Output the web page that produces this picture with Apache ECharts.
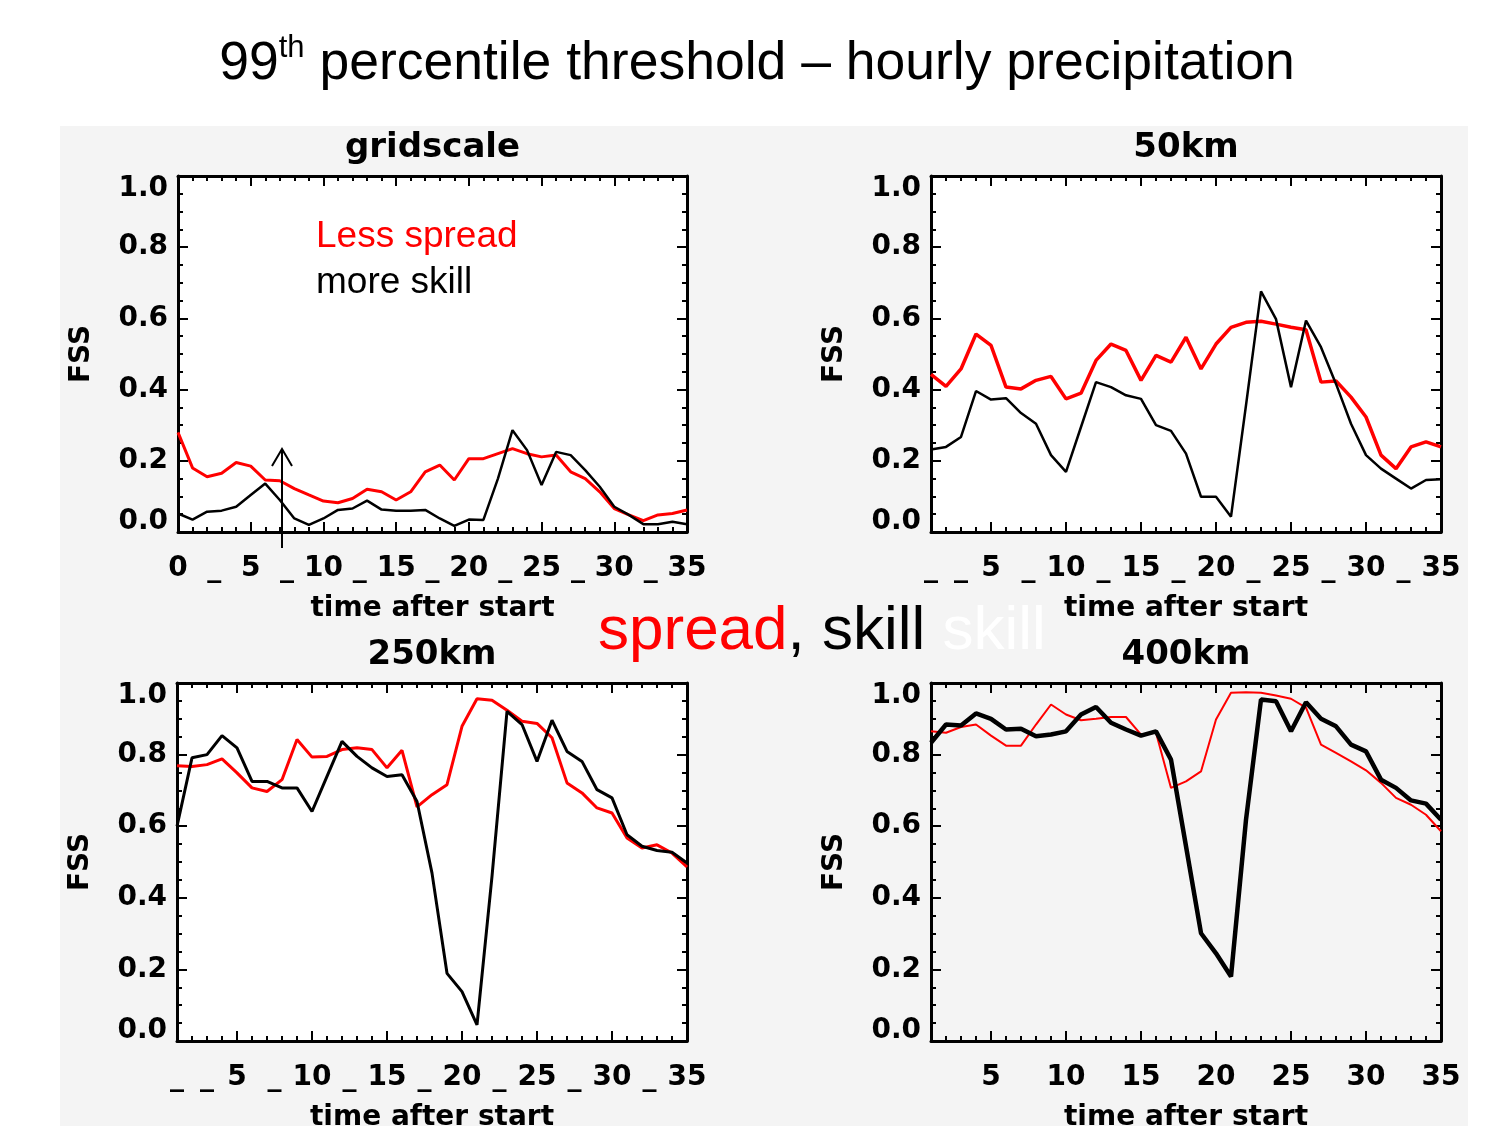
<!DOCTYPE html>
<html>
<head>
<meta charset="utf-8">
<title>99th percentile threshold – hourly precipitation</title>
<script src="https://cdn.jsdelivr.net/npm/echarts@6/dist/echarts.min.js"></script>
<style>
html, body { margin: 0; padding: 0; background: #fff; }
#main { width: 1497px; height: 1126px; }
</style>
</head>
<body>
<div id="main"></div>
<script>
// hours after start
var hoursGridscale = [0,1,2,3,4,5,6,7,8,9,10,11,12,13,14,15,16,17,18,19,20,21,22,23,24,25,26,27,28,29,30,31,32,33,34,35];
var hoursSmoothed = [1,2,3,4,5,6,7,8,9,10,11,12,13,14,15,16,17,18,19,20,21,22,23,24,25,26,27,28,29,30,31,32,33,34,35];

// FSS values, red = spread, black = skill
var gridscaleRed = [0.28,0.18,0.155,0.165,0.195,0.185,0.146,0.144,0.122,0.104,0.087,0.082,0.094,0.12,0.113,0.09,0.113,0.169,0.188,0.146,0.206,0.206,0.22,0.234,0.22,0.211,0.216,0.169,0.15,0.113,0.066,0.048,0.032,0.048,0.052,0.062];
var gridscaleBlack = [0.052,0.035,0.057,0.06,0.071,0.104,0.136,0.09,0.038,0.02,0.038,0.062,0.066,0.088,0.063,0.06,0.06,0.062,0.038,0.017,0.035,0.034,0.15,0.286,0.23,0.132,0.225,0.216,0.174,0.127,0.071,0.048,0.022,0.022,0.029,0.022];
var km50Red = [0.443,0.409,0.458,0.556,0.524,0.407,0.402,0.426,0.437,0.374,0.39,0.482,0.528,0.51,0.426,0.496,0.477,0.547,0.458,0.528,0.575,0.589,0.592,0.584,0.575,0.568,0.421,0.424,0.379,0.323,0.216,0.178,0.239,0.253,0.239];
var km50Black = [0.232,0.239,0.267,0.396,0.372,0.376,0.334,0.304,0.216,0.169,0.295,0.421,0.407,0.384,0.374,0.3,0.284,0.22,0.099,0.099,0.043,0.356,0.676,0.598,0.407,0.594,0.519,0.416,0.304,0.216,0.178,0.15,0.122,0.146,0.148];
var km250Red = [0.769,0.767,0.772,0.788,0.749,0.707,0.697,0.73,0.842,0.793,0.795,0.814,0.819,0.814,0.763,0.812,0.654,0.688,0.716,0.879,0.956,0.952,0.924,0.893,0.887,0.847,0.721,0.693,0.651,0.637,0.567,0.539,0.548,0.525,0.486];
var km250Black = [0.6,0.791,0.8,0.853,0.819,0.725,0.725,0.707,0.707,0.641,0.739,0.837,0.795,0.763,0.739,0.744,0.669,0.469,0.189,0.138,0.045,0.46,0.921,0.884,0.781,0.896,0.809,0.781,0.702,0.679,0.576,0.544,0.532,0.527,0.497];
var km400Red = [0.865,0.861,0.877,0.884,0.853,0.825,0.825,0.884,0.94,0.912,0.896,0.9,0.905,0.905,0.856,0.861,0.707,0.725,0.753,0.898,0.973,0.974,0.973,0.965,0.956,0.931,0.828,0.805,0.781,0.756,0.721,0.679,0.66,0.632,0.586];
var km400Black = [0.833,0.884,0.881,0.915,0.9,0.87,0.872,0.851,0.856,0.865,0.912,0.933,0.889,0.87,0.853,0.865,0.786,0.544,0.301,0.245,0.18,0.618,0.954,0.949,0.865,0.946,0.9,0.879,0.828,0.809,0.73,0.707,0.672,0.663,0.618];

// tick labels
var yTickLabels = [0, 0.2, 0.4, 0.6, 0.8, 1.0];
var xMajorTicks = [5, 10, 15, 20, 25, 30, 35];
var xLabelsGridscale = [0, 2.5, 5, 7.5, 10, 12.5, 15, 17.5, 20, 22.5, 25, 27.5, 30, 32.5, 35];
var xLabelsUnderscored = [1, 3, 5, 7.5, 10, 12.5, 15, 17.5, 20, 22.5, 25, 27.5, 30, 32.5, 35];
var xLabelsPlain = [5, 10, 15, 20, 25, 30, 35];

var idlFont = 'DejaVu Sans';
var pptFont = 'Liberation Sans';

var panels = [
  { title: 'gridscale', left: 178, top: 176, width: 509, height: 356, xMin: 0, hours: hoursGridscale,
    red: gridscaleRed, black: gridscaleBlack, labels: xLabelsGridscale, bg: '#ffffff', redW: 3, blackW: 2.5 },
  { title: '50km', left: 931, top: 176, width: 510, height: 356, xMin: 1, hours: hoursSmoothed,
    red: km50Red, black: km50Black, labels: xLabelsUnderscored, bg: '#ffffff', redW: 3.5, blackW: 2.5 },
  { title: '250km', left: 177, top: 683, width: 510, height: 358, xMin: 1, hours: hoursSmoothed,
    red: km250Red, black: km250Black, labels: xLabelsUnderscored, bg: '#ffffff', redW: 3, blackW: 3 },
  { title: '400km', left: 931, top: 683, width: 510, height: 358, xMin: 1, hours: hoursSmoothed,
    red: km400Red, black: km400Black, labels: xLabelsPlain, bg: '#f4f4f4', redW: 2, blackW: 4.5 }
];

var tickStyle = { color: '#000', width: 2 };
var labelStyle = { color: '#000', fontFamily: idlFont, fontWeight: 'bold', fontSize: 28 };

function pairs(xs, ys) {
  return xs.map(function (x, k) { return [x, ys[k]]; });
}

var grids = [], xAxes = [], yAxes = [], series = [], graphics = [];

// grey slide background
graphics.push({ type: 'rect', z: -10, shape: { x: 60, y: 126, width: 1408, height: 1000 }, style: { fill: '#f4f4f4' } });

panels.forEach(function (p, i) {
  grids.push({ left: p.left, top: p.top, width: p.width, height: p.height, show: true,
    backgroundColor: p.bg, borderWidth: 0, containLabel: false, outerBoundsMode: 'none' });

  var majors = p.xMin === 0 ? [0].concat(xMajorTicks) : xMajorTicks;
  var xBase = xAxes.length, yBase = yAxes.length;
  var xCommon = { gridIndex: i, type: 'value', min: p.xMin, max: 35, splitLine: { show: false } };

  xAxes.push(Object.assign({}, xCommon, {
    position: 'bottom',
    axisLine: { show: true, onZero: false, lineStyle: { color: '#000', width: 3 } },
    axisTick: { show: true, inside: true, length: 10, customValues: majors, lineStyle: tickStyle },
    axisLabel: Object.assign({ customValues: p.labels, margin: 23,
      formatter: function (v) { return v % 5 === 0 ? String(v) : '_'; } }, labelStyle),
    name: 'time after start', nameLocation: 'middle', nameGap: 63,
    nameTextStyle: labelStyle
  }));
  xAxes.push(Object.assign({}, xCommon, {
    position: 'bottom', axisLine: { show: false, onZero: false },
    axisTick: { show: true, inside: true, length: 5, customValues: p.hours, lineStyle: tickStyle },
    axisLabel: { show: false }
  }));
  xAxes.push(Object.assign({}, xCommon, {
    position: 'top',
    axisLine: { show: true, onZero: false, lineStyle: { color: '#000', width: 3 } },
    axisTick: { show: true, inside: true, length: 10, customValues: majors, lineStyle: tickStyle },
    axisLabel: { show: false }
  }));
  xAxes.push(Object.assign({}, xCommon, {
    position: 'top', axisLine: { show: false, onZero: false },
    axisTick: { show: true, inside: true, length: 5, customValues: p.hours, lineStyle: tickStyle },
    axisLabel: { show: false }
  }));

  var yCommon = { gridIndex: i, type: 'value', min: 0, max: 1, interval: 0.2, splitLine: { show: false },
    axisLine: { show: true, onZero: false, lineStyle: { color: '#000', width: 3 } },
    axisTick: { show: true, inside: true, length: 10, lineStyle: tickStyle },
    minorTick: { show: true, splitNumber: 4, length: 5, lineStyle: tickStyle } };

  // IDL nudges the end labels inward
  var yLabelPos = yTickLabels.map(function (v) { return v === 0 ? 0.03 : (v === 1 ? 0.965 : v); });
  yAxes.push(Object.assign({}, yCommon, {
    position: 'left',
    axisLabel: Object.assign({ customValues: yLabelPos, margin: 10,
      formatter: function (v) { return (Math.round(v * 5) / 5).toFixed(1); } }, labelStyle),
    name: 'FSS', nameLocation: 'middle', nameGap: 82, nameTextStyle: labelStyle
  }));
  yAxes.push(Object.assign({}, yCommon, { position: 'right', axisLabel: { show: false } }));

  series.push({ type: 'line', name: p.title + ' spread', xAxisIndex: xBase, yAxisIndex: yBase,
    data: pairs(p.hours, p.red), symbol: 'none', lineStyle: { color: '#ff0000', width: p.redW }, z: 3 });
  series.push({ type: 'line', name: p.title + ' skill', xAxisIndex: xBase, yAxisIndex: yBase,
    data: pairs(p.hours, p.black), symbol: 'none', lineStyle: { color: '#000000', width: p.blackW }, z: 4 });

  graphics.push({ type: 'text', z: 50, style: { text: p.title, x: p.left + p.width / 2, y: p.top - 28,
    align: 'center', verticalAlign: 'middle', textAlign: 'center', textVerticalAlign: 'middle',
    font: 'bold 34px "' + idlFont + '"', fill: '#000' } });
});

// slide title and annotations
graphics.push({ type: 'text', z: 50, style: {
  text: '{n|99}{s|th}{n| percentile threshold – hourly precipitation}',
  x: 757, y: 64, align: 'center', verticalAlign: 'middle', textAlign: 'center', textVerticalAlign: 'middle',
  rich: {
    n: { fontFamily: pptFont, fontSize: 53.5, lineHeight: 62, fill: '#000', color: '#000' },
    s: { fontFamily: pptFont, fontSize: 31, lineHeight: 62, verticalAlign: 'top', fill: '#000', color: '#000' }
  } } });
graphics.push({ type: 'text', z: 50, style: { text: 'Less spread', x: 316, y: 237, verticalAlign: 'middle',
  textVerticalAlign: 'middle', font: '37px "' + pptFont + '"', fill: '#ff0000' } });
graphics.push({ type: 'text', z: 50, style: { text: 'more skill', x: 316, y: 283, verticalAlign: 'middle',
  textVerticalAlign: 'middle', font: '37px "' + pptFont + '"', fill: '#000' } });
graphics.push({ type: 'text', z: 50, style: {
  text: '{r|spread}{k|, skill }{w|skill}', x: 598, y: 632, verticalAlign: 'middle', textVerticalAlign: 'middle',
  rich: {
    r: { fontFamily: pptFont, fontSize: 62, color: '#ff0000', fill: '#ff0000' },
    k: { fontFamily: pptFont, fontSize: 62, color: '#000', fill: '#000' },
    w: { fontFamily: pptFont, fontSize: 62, color: '#ffffff', fill: '#ffffff' }
  } } });
// arrow in the gridscale panel
graphics.push({ type: 'polyline', z: 50, shape: { points: [[282, 548], [282, 449]] },
  style: { stroke: '#000', lineWidth: 2, fill: null } });
graphics.push({ type: 'polyline', z: 50, shape: { points: [[272, 466], [282, 449], [292, 466]] },
  style: { stroke: '#000', lineWidth: 2, fill: null } });

var myChart = echarts.init(document.getElementById('main'));
var option = {
  animation: false,
  backgroundColor: 'transparent',
  grid: grids,
  xAxis: xAxes,
  yAxis: yAxes,
  series: series,
  graphic: { elements: graphics }
};
myChart.setOption(option);
</script>
</body>
</html>
